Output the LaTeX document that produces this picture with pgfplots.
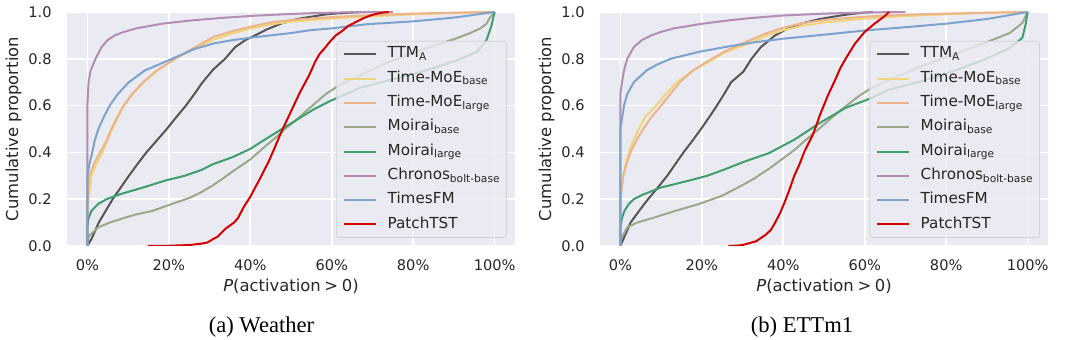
\documentclass[border=0pt]{standalone}
\usepackage{fontspec}
\setmainfont{DejaVu Sans}
\newfontfamily\capfont{Liberation Serif}
\usepackage{pgfplots}
\pgfplotsset{compat=1.18}
\definecolor{bgc}{HTML}{EAEAF2}
\definecolor{txt}{HTML}{262626}
\definecolor{legedge}{HTML}{D2D2D8}
\definecolor{cttm}{HTML}{555555}
\definecolor{cmoeb}{HTML}{F2D57A}
\definecolor{cmoel}{HTML}{EDB48C}
\definecolor{cmoib}{HTML}{9BA98A}
\definecolor{cmoil}{HTML}{3E9E6E}
\definecolor{cchr}{HTML}{B48DB4}
\definecolor{ctfm}{HTML}{7BA3CC}
\definecolor{cpt}{HTML}{D40000}
\pgfplotsset{
  cdfstyle/.style={
    scale only axis, width=224pt, height=117pt,
    xmin=-5, xmax=105, ymin=0, ymax=1,
    axis background/.style={fill=bgc},
    axis line style={draw=none},
    major tick length=0pt,
    grid=major, grid style={white, line width=0.8pt},
    xtick={0,20,40,60,80,100},
    ytick={0,0.2,0.4,0.6,0.8,1.0},
    /pgf/number format/assume math mode=true,
    xticklabel={\pgfmathprintnumber{\tick}\%},
    yticklabel style={/pgf/number format/fixed, /pgf/number format/fixed zerofill, /pgf/number format/precision=1},
    tick label style={font=\fontsize{7.3}{8}\selectfont, text=txt},
    xticklabel style={anchor=base, yshift=-12.5pt},
    yticklabel style={anchor=east, inner sep=0pt, xshift=-7.5pt},
    label style={font=\fontsize{8.2}{9}\selectfont, text=txt},
    xlabel={\textit{P}(activation\hspace{0.22em}>\hspace{0.22em}0)},
    ylabel={Cumulative proportion},
    xlabel style={at={(axis description cs:0.5,-0.1966)}, anchor=base},
    ylabel style={at={(axis description cs:-0.1194,0.5)}, anchor=center},
    legend cell align=left,
    legend style={at={(0.9821,0.0342)}, anchor=south east, draw=legedge,
      fill=bgc, fill opacity=0.8, text opacity=1, rounded corners=1.5pt,
      font=\fontsize{7.6}{9}\selectfont, text=txt,
      inner xsep=3pt, inner ysep=0.5pt, row sep=0pt, column sep=5.5pt,
      nodes={inner xsep=0pt, inner ysep=0pt, text height=7.9pt, text depth=4.25pt, anchor=west}},
    legend image code/.code={\draw[#1, line width=1pt] (0pt,0pt) -- (16pt,0pt);},
    every axis plot/.append style={line width=1pt, line join=round},
  }
}
\begin{document}
\begin{tikzpicture}
\begin{axis}[cdfstyle, name=ax1, at={(0pt,0pt)}, anchor=south west]
\addplot[cttm] coordinates {(0,0) (1,0.03) (2.8,0.1) (4.5,0.15) (6.2,0.2) (8.2,0.25) (10.2,0.3) (12.3,0.35) (14.5,0.4) (17,0.45) (19.5,0.5) (21.8,0.55) (24.2,0.6) (26.3,0.65) (28.3,0.7) (30.9,0.754) (33.8,0.8) (36.3,0.85) (38.8,0.88) (41.2,0.9) (44,0.925) (47.5,0.95) (51.5,0.97) (55,0.98) (58.6,0.99) (63,0.996) (68,1.0)};
\addlegendentry{TTM\textsubscript{A}}
\addplot[cmoeb] coordinates {(0,0) (0,0.15) (1,0.3) (2.2,0.35) (3.7,0.4) (4.9,0.45) (6.1,0.5) (7.5,0.55) (9,0.6) (11.2,0.65) (13.8,0.7) (17.2,0.75) (21.6,0.8) (26.5,0.845) (30.9,0.882) (35,0.905) (40,0.929) (45,0.947) (50.7,0.96) (60,0.972) (69,0.981) (80,0.99) (90,0.996) (100,1)};
\addlegendentry{Time-MoE\textsubscript{base}}
\addplot[cmoel] coordinates {(0,0) (0,0.2) (0.5,0.3) (1.6,0.35) (3.1,0.4) (4.7,0.45) (5.9,0.5) (7.3,0.55) (8.9,0.6) (11,0.65) (13.7,0.7) (17,0.75) (21.6,0.8) (26,0.845) (30.9,0.893) (35,0.915) (40,0.937) (45,0.955) (50.7,0.967) (60,0.978) (69,0.986) (80,0.993) (90,0.997) (100,1)};
\addlegendentry{Time-MoE\textsubscript{large}}
\addplot[cmoib] coordinates {(0,0) (0.3,0.04) (0.8,0.05) (2.7,0.08) (5.5,0.1) (9,0.12) (12,0.135) (16,0.15) (20.8,0.18) (25,0.205) (28,0.23) (30.9,0.26) (33,0.285) (35.7,0.319) (40,0.37) (43.6,0.425) (46.7,0.47) (48.5,0.5) (50.7,0.53) (54.6,0.59) (58.6,0.65) (61.7,0.685) (64.5,0.71) (68.9,0.746) (74.5,0.79) (82.4,0.84) (90.2,0.885) (94,0.91) (96.5,0.93) (98,0.95) (98.8,0.975) (100,1)};
\addlegendentry{Moirai\textsubscript{base}}
\addplot[cmoil] coordinates {(0,0) (0,0.08) (0.3,0.12) (1,0.15) (2.7,0.18) (4.7,0.2) (7.8,0.22) (13.7,0.25) (19.2,0.28) (23.9,0.3) (28,0.325) (30.9,0.35) (32.5,0.36) (35.7,0.38) (40,0.415) (43.6,0.455) (47.5,0.497) (51.5,0.54) (55.5,0.583) (59.4,0.618) (63.6,0.65) (66.7,0.675) (74.5,0.71) (82.4,0.746) (90.2,0.79) (95.7,0.83) (98,0.88) (99.2,0.94) (100,1)};
\addlegendentry{Moirai\textsubscript{large}}
\addplot[cchr] coordinates {(0,0) (0,0.6) (0.3,0.7) (0.8,0.75) (2,0.8) (3.5,0.85) (5,0.88) (6.7,0.9) (9,0.915) (12,0.93) (18.4,0.95) (25,0.963) (32.5,0.974) (40,0.983) (46.7,0.989) (55,0.995) (65,0.999) (75,1)};
\addlegendentry{Chronos\textsubscript{bolt-base}}
\addplot[ctfm] coordinates {(0,0) (0,0.3) (0.5,0.35) (1.2,0.4) (1.8,0.45) (2.7,0.5) (4,0.55) (5.5,0.6) (7.5,0.65) (10.2,0.7) (14.1,0.75) (20.8,0.8) (26,0.84) (30.9,0.865) (35,0.878) (40,0.89) (50,0.91) (54.6,0.922) (60,0.93) (68.9,0.948) (80,0.96) (90,0.976) (100,1)};
\addlegendentry{TimesFM}
\addplot[cpt] coordinates {(14.8,0) (20,0.001) (25,0.004) (28,0.01) (29.5,0.015) (30.9,0.03) (32,0.04) (34,0.075) (36,0.1) (37,0.12) (38.5,0.17) (40,0.21) (41.2,0.25) (42,0.275) (43.6,0.33) (44.5,0.36) (46,0.42) (47.2,0.47) (48.5,0.52) (50,0.575) (51.2,0.62) (52.3,0.66) (54,0.715) (54.6,0.735) (56,0.79) (57,0.82) (58.5,0.85) (59.4,0.87) (61,0.9) (62.5,0.918) (64,0.94) (65.7,0.955) (68,0.975) (70,0.988) (72,0.996) (74,1)};
\addlegendentry{PatchTST}
\end{axis}
\begin{axis}[cdfstyle, name=ax2, at={(266.5pt,0pt)}, anchor=south west]
\addplot[cttm] coordinates {(0,0) (1,0.04) (2.5,0.1) (4.6,0.15) (6.8,0.2) (9.2,0.25) (11.5,0.3) (13.5,0.35) (15.5,0.4) (17.7,0.45) (19.8,0.5) (21.8,0.55) (23.7,0.6) (25.5,0.65) (27.2,0.7) (30.2,0.745) (32.2,0.8) (34.5,0.85) (38,0.9) (41.2,0.93) (44.3,0.95) (49,0.97) (53,0.982) (56,0.99) (59,0.996) (62,1)};
\addlegendentry{TTM\textsubscript{A}}
\addplot[cmoeb] coordinates {(0,0) (0,0.2) (0.7,0.3) (1.3,0.35) (2.1,0.4) (3.2,0.45) (4.5,0.5) (6,0.55) (8.8,0.6) (11.2,0.65) (13.9,0.7) (17.8,0.75) (22,0.79) (26,0.83) (31.9,0.867) (36,0.9) (40,0.922) (45,0.942) (50,0.955) (60,0.972) (70,0.983) (80,0.99) (90,0.996) (100,1)};
\addlegendentry{Time-MoE\textsubscript{base}}
\addplot[cmoel] coordinates {(0,0) (0,0.2) (0.7,0.3) (1.5,0.35) (2.5,0.4) (3.9,0.45) (5.6,0.5) (7.6,0.55) (10,0.6) (12.3,0.65) (14.6,0.7) (17.8,0.75) (21.5,0.79) (26,0.835) (31.9,0.88) (36,0.91) (40,0.933) (45,0.953) (50,0.966) (60,0.98) (70,0.988) (80,0.993) (90,0.997) (100,1)};
\addlegendentry{Time-MoE\textsubscript{large}}
\addplot[cmoib] coordinates {(0,0) (0.3,0.04) (0.8,0.05) (1.7,0.08) (4.1,0.1) (8,0.12) (13.5,0.15) (19.4,0.18) (25,0.215) (30.2,0.262) (33,0.29) (36.5,0.33) (40,0.375) (42.7,0.41) (46,0.46) (49,0.504) (52,0.55) (55.3,0.597) (58.5,0.64) (61.6,0.675) (66,0.71) (73.8,0.767) (81.6,0.817) (89.3,0.867) (95.6,0.91) (98.7,0.953) (100,1)};
\addlegendentry{Moirai\textsubscript{base}}
\addplot[cmoil] coordinates {(0,0) (0,0.08) (0.4,0.12) (1,0.15) (2.1,0.18) (3.3,0.2) (5.6,0.22) (10,0.25) (17,0.28) (21.3,0.3) (26,0.33) (30.2,0.359) (36.5,0.397) (42.7,0.454) (49,0.526) (55.3,0.59) (61.6,0.632) (66,0.668) (73.8,0.704) (81.6,0.746) (89.3,0.796) (95.6,0.846) (98.7,0.89) (99.5,0.946) (100,1)};
\addlegendentry{Moirai\textsubscript{large}}
\addplot[cchr] coordinates {(0,0) (0,0.65) (0.4,0.7) (0.9,0.75) (1.7,0.8) (3.3,0.85) (5.3,0.88) (7.6,0.9) (10,0.915) (13.1,0.93) (20.2,0.95) (26,0.963) (31.9,0.974) (40,0.985) (50,0.993) (60,0.998) (70,1)};
\addlegendentry{Chronos\textsubscript{bolt-base}}
\addplot[ctfm] coordinates {(0,0) (0,0.5) (0.9,0.6) (1.7,0.65) (3.3,0.7) (6.4,0.75) (9,0.775) (12.3,0.8) (19.4,0.83) (25,0.848) (31.9,0.868) (40,0.886) (50,0.903) (60,0.921) (70,0.935) (80,0.95) (90,0.97) (100,1)};
\addlegendentry{TimesFM}
\addplot[cpt] coordinates {(26.5,0) (29,0.002) (30.2,0.005) (33.3,0.02) (35.7,0.048) (37,0.07) (38,0.1) (39.2,0.14) (40.4,0.19) (41.5,0.24) (42.7,0.3) (44,0.35) (45.1,0.4) (47.1,0.47) (48,0.51) (49,0.56) (51,0.645) (52.9,0.716) (54,0.76) (55.3,0.8) (57.6,0.865) (60,0.915) (62.4,0.95) (64.7,0.98) (66,1)};
\addlegendentry{PatchTST}
\end{axis}
\node[anchor=base, font=\capfont\fontsize{11.3}{13}\selectfont] at (97.25pt,-43.5pt) {(a) Weather};
\node[anchor=base, font=\capfont\fontsize{11.3}{13}\selectfont] at (367.5pt,-43.5pt) {(b) ETTm1};
\pgfresetboundingbox
\path[use as bounding box] (-33.5pt,-47pt) rectangle (506.5pt,123pt);
\end{tikzpicture}
\end{document}
